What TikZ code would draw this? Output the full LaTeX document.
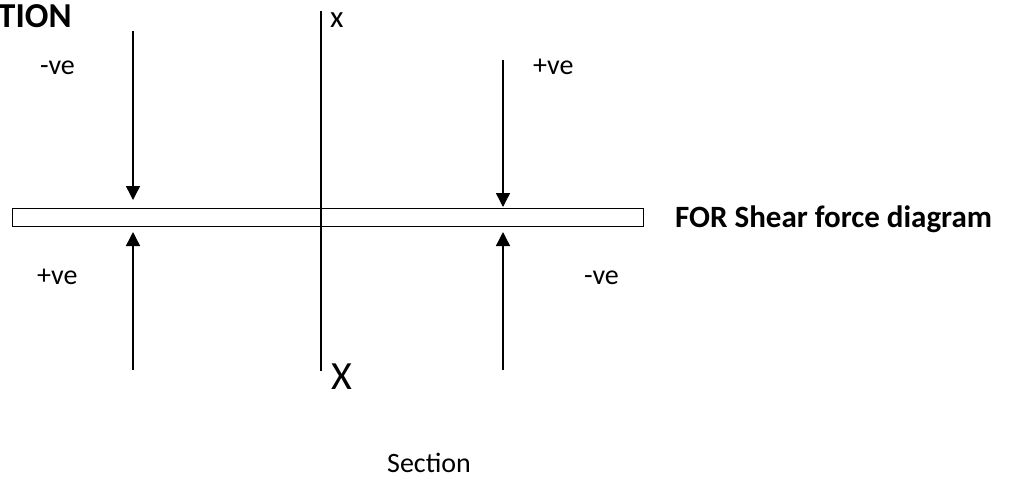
\documentclass[tikz,border=0pt]{standalone}
\usepackage{fontspec}
\setmainfont{Carlito}
\usetikzlibrary{arrows.meta}
\begin{document}
\begin{tikzpicture}[x=1pt,y=-1pt,
  force/.style={line width=1.4pt,-{Triangle[width=14pt,length=14pt]}},
  lbl/.style={inner sep=0pt,anchor=base west,font=\fontsize{28}{30}\selectfont},
  blbl/.style={inner sep=0pt,anchor=base west,font=\fontsize{31}{33}\selectfont\bfseries}]
\useasboundingbox (0,0) rectangle (1010,488);
\node[draw,line width=1.4pt,minimum width=631pt,minimum height=18pt,inner sep=0pt,anchor=north west] (beam) at (12,208) {};
\coordinate (ctop) at (321,11);
\coordinate (cbot) at (321,371);
\draw[line width=1.4pt] (ctop) -- (cbot);
\coordinate (lt) at (133,31);
\coordinate (ltip) at (133,200);
\coordinate (lb) at (133,370);
\coordinate (lbtip) at (133,232);
\coordinate (rt) at (503,60);
\coordinate (rtip) at (503,207);
\coordinate (rb) at (503,370);
\coordinate (rbtip) at (503,232);
\draw[force] (lt) -- (ltip);
\draw[force] (lb) -- (lbtip);
\draw[force] (rt) -- (rtip);
\draw[force] (rb) -- (rbtip);
\node[blbl,font=\fontsize{35}{37}\selectfont\bfseries] (title) at (-2,27) {TION};
\node[lbl] (lneg) at (40,74) {-ve};
\node[lbl] (rpos) at (533,74) {+ve};
\node[lbl] (lpos) at (37,284) {+ve};
\node[lbl] (rneg) at (584,284) {-ve};
\node[lbl,font=\fontsize{31}{33}\selectfont] (xs) at (330,27) {x};
\node[lbl,font=\fontsize{40}{42}\selectfont] (xb) at (331,389) {X};
\node[lbl] (sec) at (387,472) {Section};
\node[blbl] (sfd) at (675,227) {FOR Shear force diagram};
\end{tikzpicture}
\end{document}
